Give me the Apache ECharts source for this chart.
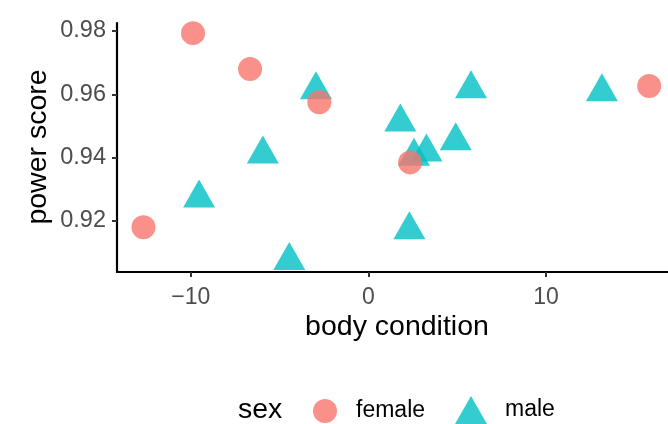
<!DOCTYPE html>
<html>
<head>
<meta charset="utf-8">
<script src="https://cdn.jsdelivr.net/npm/echarts@6/dist/echarts.min.js"></script>
<style>
html,body{margin:0;padding:0;background:#fff;}
#chart{width:668px;height:424px;}
</style>
</head>
<body>
<div id="chart"></div>
<script>
// Data
const femaleX = [-9.87, -6.66, -2.76, -12.66, 2.35, 15.81];
const femaleY = [0.9793, 0.9680, 0.9575, 0.9180, 0.9385, 0.9626];
const maleX = [-2.95, -5.94, -9.53, -4.45, 5.78, 13.15, 1.80, 4.92, 3.27, 2.57, 2.31];
const maleY = [0.9614, 0.9411, 0.9272, 0.9075, 0.9617, 0.9607, 0.9512, 0.9453, 0.9417, 0.9404, 0.9172];
const xTicks = [-10, 0, 10];
const yTicks = [0.92, 0.94, 0.96, 0.98];
const xTitle = 'body condition';
const yTitle = 'power score';
const legendTitle = 'sex';
const groups = ['female', 'male'];

const FONT = '"Liberation Sans", Arial, Helvetica, sans-serif';
const chart = echarts.init(document.getElementById('chart'), null, {renderer: 'canvas'});

const zip = (xs, ys) => xs.map((x, i) => [x, ys[i]]);

const option = {
  backgroundColor: '#ffffff',
  animation: false,
  grid: {left: 117, right: 0, top: 23, bottom: 152, containLabel: false},
  xAxis: {
    type: 'value',
    min: -14.15, max: 16.87,
    splitLine: {show: false},
    axisLine: {show: true, onZero: false, lineStyle: {color: '#000', width: 2.2}},
    axisTick: {show: true, length: 5, lineStyle: {color: '#333', width: 2}, customValues: xTicks},
    axisLabel: {
      show: true, margin: 14, color: '#4D4D4D', fontSize: 23, fontFamily: FONT,
      customValues: xTicks,
      formatter: v => String(v).replace('-', '\u2212')
    }
  },
  yAxis: {
    type: 'value',
    min: 0.9039, max: 0.9825,
    splitLine: {show: false},
    axisLine: {show: true, onZero: false, lineStyle: {color: '#000', width: 2.2}},
    axisTick: {show: true, length: 5, lineStyle: {color: '#333', width: 2}, customValues: yTicks},
    axisLabel: {
      show: true, margin: 11, color: '#4D4D4D', fontSize: 23.5, fontFamily: FONT,
      customValues: yTicks,
      formatter: v => v.toFixed(2)
    }
  },
  legend: [
    {
      data: [{name: groups[0], icon: 'circle'}],
      left: 308, top: 394,
      itemWidth: 24, itemHeight: 24,
      textStyle: {fontSize: 23, color: '#000', fontFamily: FONT, padding: [0, 0, 0, 14]},
      selectedMode: false
    },
    {
      data: [{name: groups[1], icon: 'triangle'}],
      left: 450, top: 391,
      itemWidth: 32, itemHeight: 28,
      textStyle: {fontSize: 23, color: '#000', fontFamily: FONT, padding: [0, 0, 0, 13]},
      selectedMode: false
    }
  ],
  graphic: [
    {type: 'text', left: 238, top: 396, style: {text: legendTitle, font: '28.5px ' + FONT, fill: '#000'}},
    {type: 'text', x: 397, y: 327, style: {text: xTitle, font: '28.5px ' + FONT, fill: '#000', align: 'center', verticalAlign: 'middle'}},
    {type: 'text', x: 38, y: 147, rotation: Math.PI / 2, style: {text: yTitle, font: '28.5px ' + FONT, fill: '#000', align: 'center', verticalAlign: 'middle'}}
  ],
  series: [
    {
      name: groups[1], type: 'scatter',
      symbol: 'triangle', symbolSize: [32, 28], symbolOffset: [0, -4.7],
      itemStyle: {color: '#00BFC4', opacity: 0.8},
      data: zip(maleX, maleY)
    },
    {
      name: groups[0], type: 'scatter',
      symbol: 'circle', symbolSize: 24,
      itemStyle: {color: '#F8766D', opacity: 0.8},
      data: zip(femaleX, femaleY)
    }
  ]
};
chart.setOption(option);
</script>
</body>
</html>
